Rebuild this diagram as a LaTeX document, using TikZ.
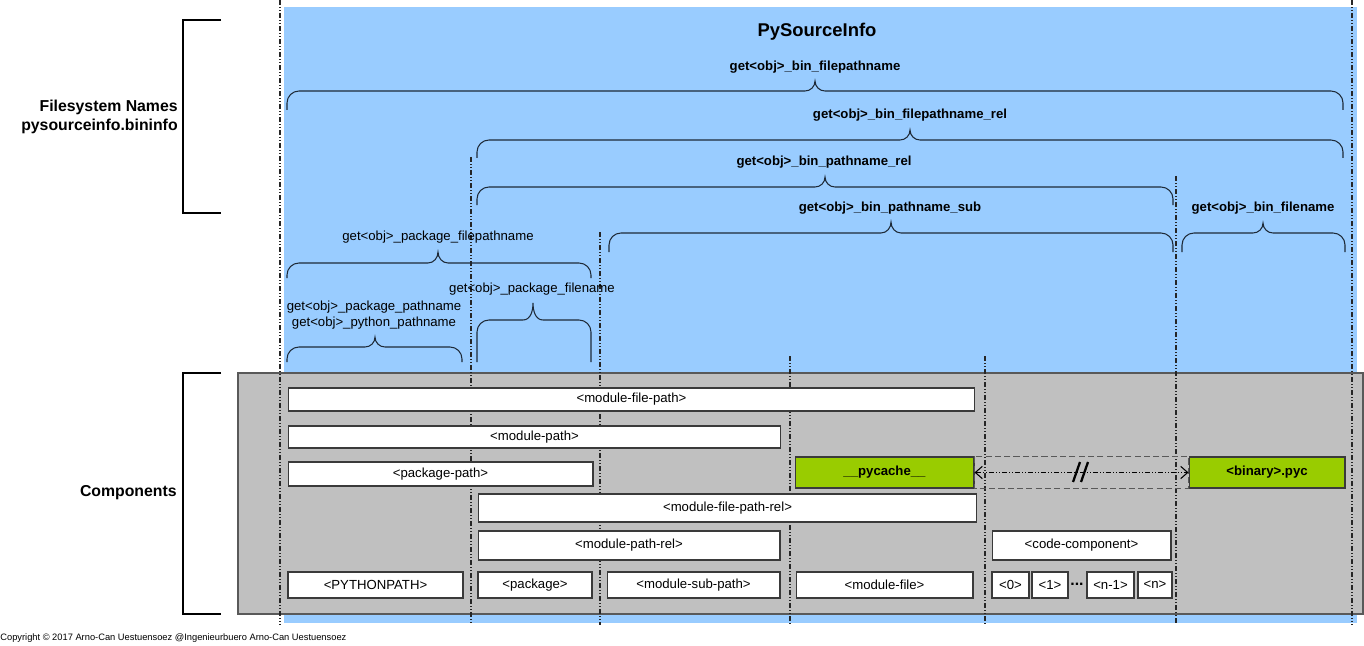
\documentclass[tikz,border=0pt]{standalone}
\usepackage{fontspec}
\setmainfont{Liberation Sans}
\usetikzlibrary{arrows.meta}
\definecolor{infoblue}{HTML}{99CCFF}
\definecolor{compgray}{HTML}{C0C0C0}
\definecolor{pycgreen}{HTML}{99CC00}
\definecolor{boxline}{HTML}{3A3A3A}
\definecolor{bracecol}{HTML}{1E2A38}
% brace opening downwards: x-left, x-right, x-tip, y-tip, y-straight, y-ends
\def\topbrace(#1:#2:#3:#4)(#5:#6){\draw[bracepen] (#1,#6) -- (#1,#5+12) to[out=90,in=180] (#1+12,#5) -- (#3-10,#5) to[out=0,in=-90] (#3,#4) to[out=-90,in=180] (#3+10,#5) -- (#2-12,#5) to[out=0,in=90] (#2,#5+12) -- (#2,#6);}

\begin{document}
\begin{tikzpicture}[x=0.02cm, y=-0.02cm,
	guide/.style={line width=0.6pt, color=black!85, dash pattern=on 3pt off 1.2pt on 0.4pt off 1.2pt on 0.4pt off 1.2pt},
	bracepen/.style={line width=0.6pt, color=bracecol},
	compbox/.style={draw=boxline, line width=0.6pt, fill=white, inner sep=0pt, font=\fontsize{7.5}{9}\selectfont},
	greenbox/.style={compbox, fill=pycgreen, font=\fontsize{7.5}{9}\selectfont\bfseries},
	binlabel/.style={inner sep=1pt, font=\fontsize{7.5}{9}\selectfont\bfseries},
	pkglabel/.style={inner sep=1pt, font=\fontsize{7.5}{9}\selectfont},
	sidelabel/.style={inner sep=0pt, align=right, font=\fontsize{9}{10.8}\selectfont\bfseries}]
		%%%%% START %%%%%
		\useasboundingbox (0,0) rectangle (1364,645);
		
		\fill[infoblue] (284,7) rectangle (1357,623);
		\draw[fill=compgray, draw=black!65, line width=0.8pt] (238,373) rectangle (1363,614);
		
		\foreach \x/\ytop in {280/0, 471/157, 600/232, 790/356, 985/356, 1176/176, 1352/0}
			\draw[guide] (\x,\ytop) -- (\x,625);
		
		% left brackets
		\draw[line width=0.6pt] (221,20) -- (183,20) -- (183,213) -- (221,213);
		\draw[line width=0.6pt] (221,373) -- (183,373) -- (183,614) -- (221,614);
		\node (fsnames) [sidelabel, anchor=east] at (178,116.5) {Filesystem Names\\pysourceinfo.bininfo};
		\node (components) [sidelabel, anchor=east] at (177,493) {Components};
		
		\node (title) [font=\fontsize{10.5}{12}\selectfont\bfseries] at (817,32) {PySourceInfo};
		
		% braces
		\topbrace(287:1343:815:81)(91:110)
		\topbrace(477:1343:910:130)(140:158)
		\topbrace(477:1173:825:177)(187:205)
		\topbrace(609:1173:891:222)(233:252)
		\topbrace(1182:1345:1263:223)(233:252)
		\topbrace(287:591:438:252)(263:278)
		\topbrace(287:462:375:337)(347:362)
		\topbrace(477:591:533:303)(320:362)
		
		\node (binfp) [binlabel] at (815,67) {get<obj>\_bin\_filepathname};
		\node (binfprel) [binlabel] at (910,115) {get<obj>\_bin\_filepathname\_rel};
		\node (binprel) [binlabel] at (824,162) {get<obj>\_bin\_pathname\_rel};
		\node (binsub) [binlabel] at (890,208) {get<obj>\_bin\_pathname\_sub};
		\node (binfn) [binlabel] at (1263,208) {get<obj>\_bin\_filename};
		\node (pkgfp) [pkglabel] at (438,237) {get<obj>\_package\_filepathname};
		\node (pkgp) [pkglabel, align=center] at (374,315) {get<obj>\_package\_pathname\\get<obj>\_python\_pathname};
		\node (pkgfn) [pkglabel] at (532,289) {get<obj>\_package\_filename};
		
		% components
		\node (pyc) [greenbox, minimum width=3.58cm, minimum height=0.62cm] at (884.5,472.5) {\_\_pycache\_\_};
		\node (bin) [greenbox, minimum width=3.12cm, minimum height=0.62cm] at (1267,472.5) {<binary>.pyc};
		\draw[color=black!65, line width=0.9pt, dash pattern=on 3.5pt off 1.8pt] (pyc.north east) rectangle (bin.south west);
		\draw[guide, color=black, {Straight Barb[length=4pt,width=7pt]}-{Straight Barb[length=4pt,width=7pt]}] (pyc.east) -- (bin.west);
		\draw[line width=1.3pt] (1073,482) -- (1080,462);
		\draw[line width=1.3pt] (1081,482) -- (1088,462);
		
		\node (mfp) [compbox, minimum width=13.74cm, minimum height=0.46cm] at (631.5,399.5) {<module-file-path>};
		\node (mp) [compbox, minimum width=9.86cm, minimum height=0.44cm] at (534.5,437) {<module-path>};
		\node (pkgpath) [compbox, minimum width=6.10cm, minimum height=0.48cm] at (440.5,474) {<package-path>};
		\node (mfprel) [compbox, minimum width=9.98cm, minimum height=0.56cm] at (727.5,508) {<module-file-path-rel>};
		\node (mprel) [compbox, minimum width=6.04cm, minimum height=0.58cm] at (629,545.5) {<module-path-rel>};
		\node (codecomp) [compbox, minimum width=3.58cm, minimum height=0.58cm] at (1081.5,545.5) {<code-component>};
		
		\node (pypath) [compbox, minimum width=3.5cm, minimum height=0.52cm] at (375.5,585) {<PYTHONPATH>};
		\node (pkg) [compbox, minimum width=2.28cm, minimum height=0.52cm] at (535,585) {<package>};
		\node (msp) [compbox, minimum width=3.46cm, minimum height=0.52cm] at (693.5,585) {<module-sub-path>};
		\node (mfile) [compbox, minimum width=3.54cm, minimum height=0.52cm] at (884.5,585) {<module-file>};
		\node (c0) [compbox, minimum width=0.74cm, minimum height=0.52cm] at (1010.5,585) {<0>};
		\node (c1) [compbox, minimum width=0.72cm, minimum height=0.52cm] at (1050,585) {<1>};
		\node (cdots) [pkglabel, font=\fontsize{9}{10}\selectfont\bfseries] at (1077,584) {...};
		\node (cn1) [compbox, minimum width=0.94cm, minimum height=0.52cm] at (1110.5,585) {<n-1>};
		\node (cn) [compbox, minimum width=0.68cm, minimum height=0.52cm] at (1155,585) {<n>};
		
		\node (copy) [anchor=west, inner sep=0pt, font=\fontsize{5.3}{6}\selectfont] at (0,638) {Copyright © 2017 Arno-Can Uestuensoez @Ingenieurbuero Arno-Can Uestuensoez};
		%%%%% END %%%%%
\end{tikzpicture}
\end{document}
